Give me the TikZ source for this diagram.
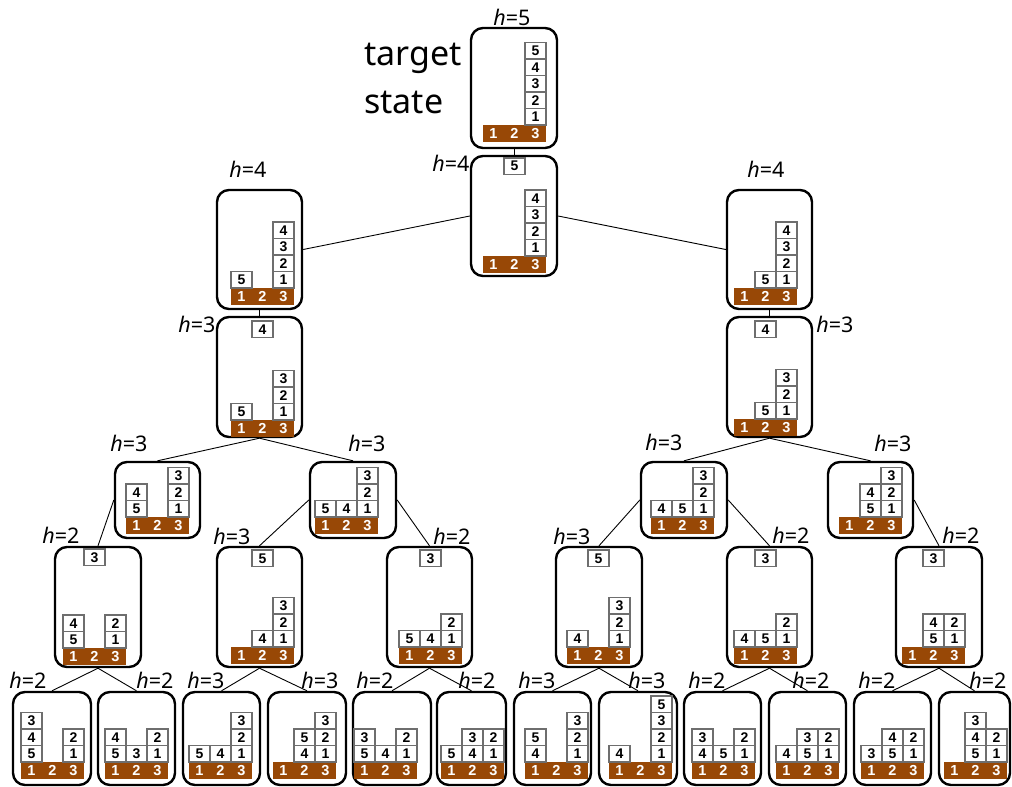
\documentclass[tikz,border=0pt]{standalone}
\usepackage{fontspec}
\setmainfont{Noto Sans}
\newfontfamily\digitfont{Liberation Sans}
\definecolor{barbrown}{RGB}{152,72,6}
\definecolor{blkgray}{RGB}{110,110,110}
\tikzset{
  stbox/.style={draw=black, line width=2.4pt, rounded corners=12pt, fill=white, inner sep=0pt},
  blk/.style={draw=blkgray, line width=1.1pt, fill=white, minimum width=21pt, minimum height=16.5pt,
    inner sep=0pt, font=\digitfont\bfseries\fontsize{14}{14}\selectfont},
  barnum/.style={text=white, inner sep=0pt, font=\digitfont\bfseries\fontsize{14.5}{14.5}\selectfont},
  edge/.style={draw=black, line width=0.9pt},
  hlbl/.style={inner sep=0pt, anchor=base, font=\fontsize{21.5}{24}\selectfont},
  bigtxt/.style={inner sep=0pt, anchor=base west, font=\fontsize{34}{40}\selectfont},
}
% rounded state frame given by its corners (x1,y1) (x2,y2)
\newcommand\stbx[5]{\node[stbox, minimum width={(#4-#2)*1pt}, minimum height={(#5-#3)*1pt}] (#1) at ({(#2+#4)/2},{(#3+#5)/2}) {};}
% table bar with its stacks: name, bar left x, bar top y, blocks as column/level/number
\newcommand\state[4]{%
  \fill[barbrown] (#2,#3) rectangle ++(63,16.5);
  \foreach \ii in {1,2,3}{\node[barnum] (#1-base\ii) at ({#2+21*\ii-10.5},{#3+8.25}) {\ii};}
  \foreach \cc/\kk/\nn in {#4}{\node[blk] (#1-blk\nn) at ({#2+21*\cc-10.5},{#3-16.5*\kk+8.25}) {\nn};}
}
% block held by the hand: name, left x, top y, number
\newcommand\hand[4]{\node[blk] (#1-hand) at ({#2+10.5},{#3+8.25}) {#4};}
\begin{document}
\begin{tikzpicture}[x=1pt,y=-1pt]
\useasboundingbox (0,0) rectangle (1012,787);

% frames
\stbx{root}{471}{28}{557}{148}
\stbx{C}{471}{156}{557}{276}
\stbx{L4}{217}{190}{302}{309}
\stbx{R4}{727}{190}{812}{309}
\stbx{L3}{217}{317}{302}{437}
\stbx{R3}{727}{317}{812}{437}
\stbx{SL1}{115}{462}{200}{538}
\stbx{SL2}{310}{462}{396}{538}
\stbx{SR1}{641}{462}{727}{538}
\stbx{SR2}{828}{462}{913}{538}
\stbx{T1}{55}{547}{141}{667}
\stbx{T2}{217}{547}{302}{667}
\stbx{T3}{387}{547}{472}{667}
\stbx{T4}{556}{547}{642}{667}
\stbx{T5}{727}{547}{812}{667}
\stbx{T6}{896}{547}{982}{667}
\stbx{B1}{13}{692}{91}{785}
\stbx{B2}{98}{692}{175}{785}
\stbx{B3}{183}{692}{260}{785}
\stbx{B4}{268}{692}{346}{785}
\stbx{B5}{353}{692}{431}{785}
\stbx{B6}{437}{692}{506}{785}
\stbx{B7}{514}{692}{591}{785}
\stbx{B8}{599}{692}{677}{785}
\stbx{B9}{684}{692}{761}{785}
\stbx{B10}{769}{692}{846}{785}
\stbx{B11}{854}{692}{931}{785}
\stbx{B12}{939}{692}{1010}{785}

% tree connectors
\draw[edge] (root.south) -- (C.north);
\draw[edge] (C.west) -- (L4.east);
\draw[edge] (C.east) -- (R4.west);
\draw[edge] (L4.south) -- (L3.north);
\draw[edge] (R4.south) -- (R3.north);
\draw[edge] (L3.south) -- (SL1.north);
\draw[edge] (L3.south) -- (SL2.north);
\draw[edge] (R3.south) -- (SR1.north);
\draw[edge] (R3.south) -- (SR2.north);
\draw[edge] (SL1.west) -- (T1.north);
\draw[edge] (SL2.west) -- (T2.north);
\draw[edge] (SL2.east) -- (T3.north);
\draw[edge] (SR1.west) -- (T4.north);
\draw[edge] (SR1.east) -- (T5.north);
\draw[edge] (SR2.east) -- (T6.north);
\draw[edge] (T1.south) -- (B1.north);
\draw[edge] (T1.south) -- (B2.north);
\draw[edge] (T2.south) -- (B3.north);
\draw[edge] (T2.south) -- (B4.north);
\draw[edge] (T3.south) -- (B5.north);
\draw[edge] (T3.south) -- (B6.north);
\draw[edge] (T4.south) -- (B7.north);
\draw[edge] (T4.south) -- (B8.north);
\draw[edge] (T5.south) -- (B9.north);
\draw[edge] (T5.south) -- (B10.north);
\draw[edge] (T6.south) -- (B11.north);
\draw[edge] (T6.south) -- (B12.north);

% block configurations
\state{sroot}{483}{125}{3/1/1,3/2/2,3/3/3,3/4/4,3/5/5}
\state{sC}{483}{256}{3/1/1,3/2/2,3/3/3,3/4/4}
\hand{sC}{504}{158}{5}
\state{sL4}{231}{288}{1/1/5,3/1/1,3/2/2,3/3/3,3/4/4}
\state{sR4}{734}{288}{2/1/5,3/1/1,3/2/2,3/3/3,3/4/4}
\state{sL3}{231}{420}{1/1/5,3/1/1,3/2/2,3/3/3}
\hand{sL3}{252}{321}{4}
\state{sR3}{734}{419}{2/1/5,3/1/1,3/2/2,3/3/3}
\hand{sR3}{755}{321}{4}
\state{sSL1}{126}{517}{1/1/5,1/2/4,3/1/1,3/2/2,3/3/3}
\state{sSL2}{315}{517}{1/1/5,2/1/4,3/1/1,3/2/2,3/3/3}
\state{sSR1}{651}{517}{1/1/4,2/1/5,3/1/1,3/2/2,3/3/3}
\state{sSR2}{839}{517}{2/1/5,2/2/4,3/1/1,3/2/2,3/3/3}
\state{sT1}{63}{648}{1/1/5,1/2/4,3/1/1,3/2/2}
\hand{sT1}{84}{549}{3}
\state{sT2}{231}{647}{2/1/4,3/1/1,3/2/2,3/3/3}
\hand{sT2}{252}{550}{5}
\state{sT3}{399}{647}{1/1/5,2/1/4,3/1/1,3/2/2}
\hand{sT3}{420}{550}{3}
\state{sT4}{567}{647}{1/1/4,3/1/1,3/2/2,3/3/3}
\hand{sT4}{588}{550}{5}
\state{sT5}{734}{647}{1/1/4,2/1/5,3/1/1,3/2/2}
\hand{sT5}{755}{550}{3}
\state{sT6}{902}{647}{2/1/5,2/2/4,3/1/1,3/2/2}
\hand{sT6}{923}{550}{3}
\state{sB1}{21}{762}{1/1/5,1/2/4,1/3/3,3/1/1,3/2/2}
\state{sB2}{105}{762}{1/1/5,1/2/4,2/1/3,3/1/1,3/2/2}
\state{sB3}{189}{762}{1/1/5,2/1/4,3/1/1,3/2/2,3/3/3}
\state{sB4}{273}{762}{2/1/4,2/2/5,3/1/1,3/2/2,3/3/3}
\state{sB5}{354}{762}{1/1/5,1/2/3,2/1/4,3/1/1,3/2/2}
\state{sB6}{441}{762}{1/1/5,2/1/4,2/2/3,3/1/1,3/2/2}
\state{sB7}{525}{762}{1/1/4,1/2/5,3/1/1,3/2/2,3/3/3}
\state{sB8}{609}{762}{1/1/4,3/1/1,3/2/2,3/3/3,3/4/5}
\state{sB9}{692}{762}{1/1/4,1/2/3,2/1/5,3/1/1,3/2/2}
\state{sB10}{776}{762}{1/1/4,2/1/5,2/2/3,3/1/1,3/2/2}
\state{sB11}{861}{762}{1/1/3,2/1/5,2/2/4,3/1/1,3/2/2}
\state{sB12}{944}{762}{2/1/5,2/2/4,2/3/3,3/1/1,3/2/2}

% heuristic values
\node[hlbl] (h-root) at (512,25) {\textit{h}=5};
\node[hlbl] (h-C) at (451,171) {\textit{h}=4};
\node[hlbl] (h-L4) at (248,177) {\textit{h}=4};
\node[hlbl] (h-R4) at (766,177) {\textit{h}=4};
\node[hlbl] (h-L3) at (197,332) {\textit{h}=3};
\node[hlbl] (h-R3) at (835,332) {\textit{h}=3};
\node[hlbl] (h-SL1) at (129,451) {\textit{h}=3};
\node[hlbl] (h-SL2) at (367,451) {\textit{h}=3};
\node[hlbl] (h-SR1) at (664,450) {\textit{h}=3};
\node[hlbl] (h-SR2) at (893,451) {\textit{h}=3};
\node[hlbl] (h-T1) at (61,543) {\textit{h}=2};
\node[hlbl] (h-T2) at (232,544) {\textit{h}=3};
\node[hlbl] (h-T3) at (452,544) {\textit{h}=2};
\node[hlbl] (h-T4) at (572,544) {\textit{h}=3};
\node[hlbl] (h-T5) at (791,543) {\textit{h}=2};
\node[hlbl] (h-T6) at (961,543) {\textit{h}=2};
\node[hlbl] (h-B1) at (28,688) {\textit{h}=2};
\node[hlbl] (h-B2) at (155,688) {\textit{h}=2};
\node[hlbl] (h-B3) at (206,688) {\textit{h}=3};
\node[hlbl] (h-B4) at (320,688) {\textit{h}=3};
\node[hlbl] (h-B5) at (375,688) {\textit{h}=2};
\node[hlbl] (h-B6) at (477,688) {\textit{h}=2};
\node[hlbl] (h-B7) at (537,688) {\textit{h}=3};
\node[hlbl] (h-B8) at (647,688) {\textit{h}=3};
\node[hlbl] (h-B9) at (707,688) {\textit{h}=2};
\node[hlbl] (h-B10) at (811,688) {\textit{h}=2};
\node[hlbl] (h-B11) at (877,688) {\textit{h}=2};
\node[hlbl] (h-B12) at (988,688) {\textit{h}=2};

% caption of the goal
\node[bigtxt] (goal1) at (364,65) {target};
\node[bigtxt] (goal2) at (364,113) {state};
\end{tikzpicture}
\end{document}
